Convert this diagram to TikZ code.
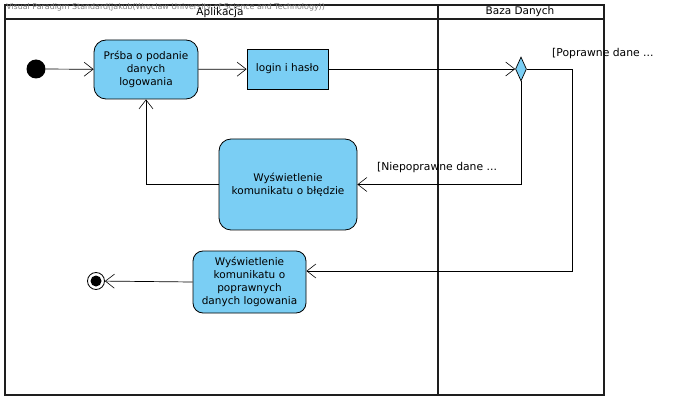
\documentclass[tikz,border=0pt]{standalone}
\usepackage{fontspec}
\setmainfont{DejaVu Sans}
\usetikzlibrary{arrows.meta,shapes.geometric}
\definecolor{actblue}{RGB}{122,206,244}
\definecolor{framegray}{RGB}{30,30,30}
\tikzset{
  act/.style={draw=black, fill=actblue, rounded corners=12pt, line width=0.8pt, align=center, font=\fontsize{10.5}{13}\selectfont, inner sep=1pt},
  pinbox/.style={draw=black, fill=actblue, line width=0.8pt, align=center, font=\fontsize{10.5}{13}\selectfont},
  flow/.style={draw=black, line width=0.7pt, -{Straight Barb[length=9pt,width=14pt,line width=0.6pt]}},
  lane/.style={draw=framegray, line width=1.6pt},
  guard/.style={font=\fontsize{10.8}{12}\selectfont, anchor=west, inner sep=0pt},
  hdr/.style={font=\fontsize{10.5}{12}\selectfont, inner sep=0pt}
}
\begin{document}
\begin{tikzpicture}[x=1pt,y=-1pt]
\useasboundingbox (0,0) rectangle (686,401);
\fill[white] (0,0) rectangle (686,401);
% swimlanes
\draw[lane] (5,5) rectangle (604,395);
\draw[lane] (5,19) -- (604,19);
\draw[lane] (438,5) -- (438,395);
\begin{scope}
\clip (0,0) rectangle (686,401);
\node[anchor=east, text=gray, font=\fontsize{7.9}{9}\selectfont, inner sep=0pt] (wm) at (325,7) {Visual Paradigm Standard(jakub(Wroclaw University of Science and Technology))};
\end{scope}
\node[hdr] (h1) at (220,12.5) {Aplikacja};
\node[hdr] (h2) at (520,11.5) {Baza Danych};
% nodes
\node[circle, fill=black, minimum size=19pt, inner sep=0pt] (start) at (36,69) {};
\node[act, minimum width=104pt, minimum height=59pt, text width=102pt] (p1) at (146,69.5) {Prśba o podanie\\danych\\logowania};
\node[pinbox, minimum width=81pt, minimum height=40pt] (login) at (287.5,69) {login i hasło};
\node[diamond, draw=black, fill=actblue, line width=0.7pt, minimum width=11pt, minimum height=24pt, inner sep=0pt, aspect=0.46] (dec) at (521,69) {};
\node[act, minimum width=138pt, minimum height=91pt, text width=136pt] (err) at (288,184.5) {Wyświetlenie\\komunikatu o błędzie};
\node[act, minimum width=113pt, minimum height=62pt, text width=111pt, rounded corners=10pt] (ok) at (249.5,282) {Wyświetlenie\\komunikatu o\\poprawnych\\danych logowania};
\node[circle, draw=black, line width=0.8pt, minimum size=17pt, inner sep=0pt] (end) at (96,281) {};
\node[circle, fill=black, minimum size=11pt, inner sep=0pt] (endin) at (end.center) {};
\coordinate (c1) at (572,69);
\coordinate (c2) at (572,271);
% flows
\draw[flow] (start) -- (p1);
\draw[flow] (p1) -- (login);
\draw[flow] (login) -- (dec.west);
\draw[flow] (dec.east) -- (c1) -- (c2) -- (ok.east |- c2);
\draw[flow] (dec.south) |- (err.east);
\draw[flow] (err.west) -| (p1.south);
\draw[flow] (ok.west) -- (end);
% guards
\node[guard] (g1) at (552,54) {[Poprawne dane ...};
\node[guard] (g2) at (377,168) {[Niepoprawne dane ...};
\end{tikzpicture}
\end{document}
